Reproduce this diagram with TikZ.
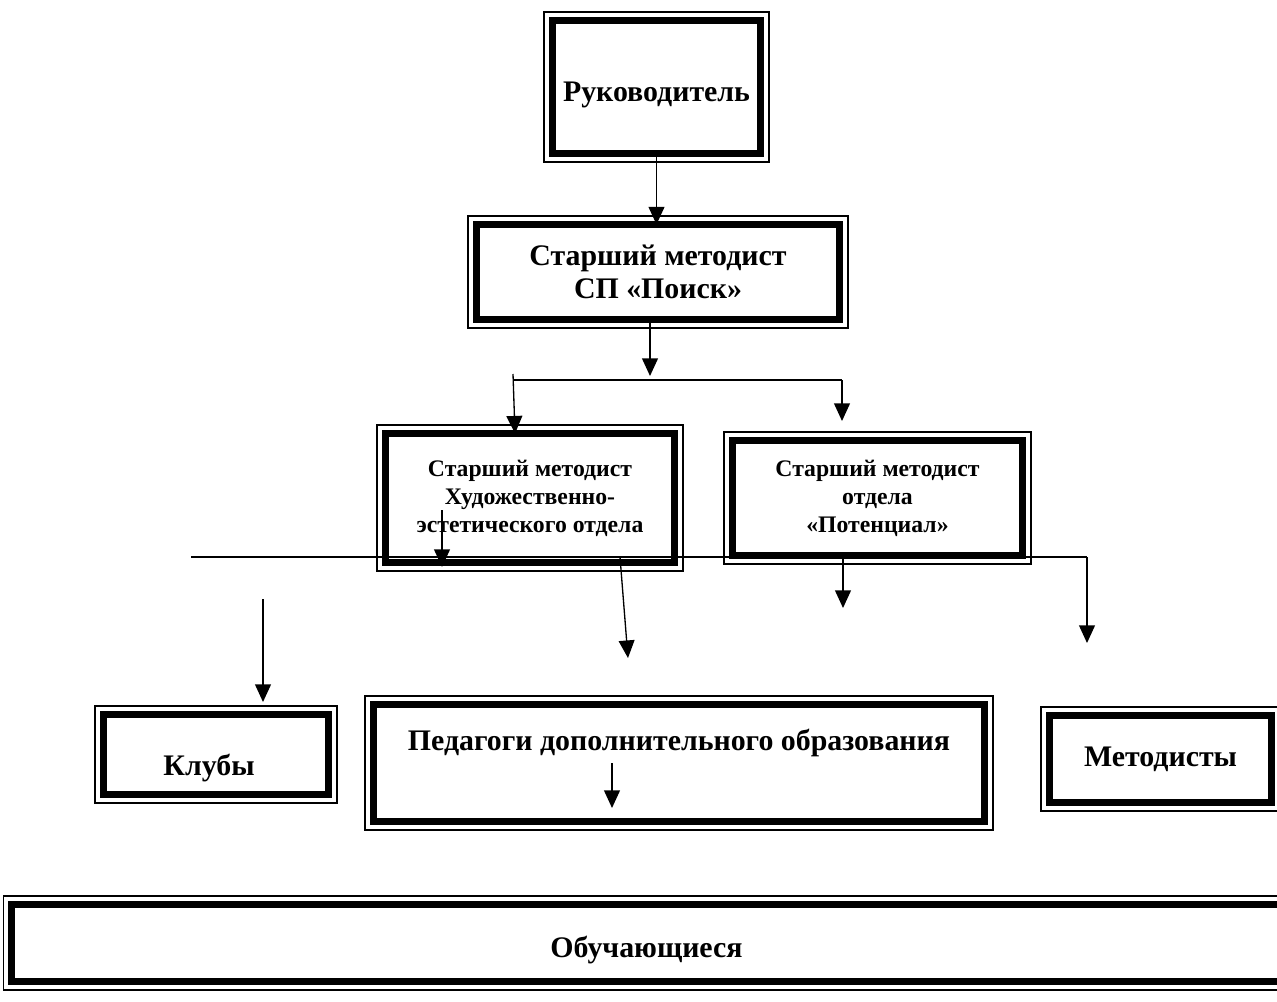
\documentclass[tikz,border=0pt]{standalone}
\usepackage{fontspec}
\setmainfont{Liberation Serif}
\usetikzlibrary{arrows.meta}

\tikzset{
  ramka/.style={draw, line width=4pt, inner sep=0pt, outer sep=0pt, align=center, font=\fontsize{17}{18.5}\selectfont\bfseries},
  melko/.style={font=\fontsize{13.5}{16}\selectfont\bfseries},
  krupno/.style={font=\fontsize{17}{18.5}\selectfont\bfseries},
  strelka/.style={->, line width=0.75pt},
  liniya/.style={line width=0.75pt},
  tonko/.style={line width=0.7pt}
}

\begin{document}
\begin{tikzpicture}[x=0.02cm,y=-0.02cm,>={Triangle[length=10pt,width=9pt]}]
\useasboundingbox (0,0) rectangle (1277,1001);
\clip (0,0) rectangle (1277,1001);
% ramki
\node[ramka, minimum width=4.16cm, minimum height=2.66cm,
      label={[krupno, yshift=-0.16cm]center:Руководитель}] (ruk) at (656.5,87) {};
\node[ramka, minimum width=7.26cm, minimum height=1.9cm] (sp) at (658,272) {Старший методист\\СП «Поиск»};
\node[ramka, melko, minimum width=5.78cm, minimum height=2.58cm] (xeo) at (530,498) {Старший методист\\Художественно-\\эстетического отдела};
\node[ramka, melko, minimum width=5.8cm, minimum height=2.3cm] (pot) at (877.5,498) {Старший методист\\отдела\\«Потенциал»};
\node[ramka, minimum width=4.5cm, minimum height=1.6cm,
      label={[krupno, xshift=-0.14cm, yshift=-0.28cm]center:Клубы}] (klub) at (216,754.5) {};
\node[ramka, minimum width=12.22cm, minimum height=2.34cm,
      label={[krupno, yshift=0.4cm]center:Педагоги дополнительного образования}] (ped) at (679,763) {};
\node[ramka, minimum width=4.44cm, minimum height=1.74cm] (met) at (1160.5,759) {Методисты};
\node[ramka, minimum width=25.4cm, minimum height=1.54cm,
      label={[krupno, yshift=-0.14cm]center:Обучающиеся}] (obu) at (646.5,943) {};
% tonkie vneshnie linii
\foreach \n in {ruk,sp,xeo,pot,klub,ped,met,obu}
  \draw[tonko] ([shift={(-0.17cm,0.17cm)}]\n.north west) rectangle ([shift={(0.17cm,-0.17cm)}]\n.south east);
% strelki
\coordinate (raz) at (650,376);
\coordinate (hl) at (513,374);
\coordinate (hr) at (842,380);
\coordinate (potv) at (842,421);
\draw[strelka] (ruk.south) -- (ruk.south |- sp.north);
\draw[strelka] (sp.south -| raz) -- (raz);
\draw[liniya] (hl |- hr) -- (hr);
\draw[strelka] (hl) -- ([xshift=-0.3cm]xeo.north);
\draw[strelka] (hr) -- (potv);
\coordinate (gl) at (191,557);
\coordinate (gp) at (1087,557);
\coordinate (metv) at (1087,643);
\draw[liniya] (gl) -- (gp);
\draw[strelka] (gp) -- (metv);
\coordinate (xv1) at (442,510);
\coordinate (xv2) at (442,567);
\draw[strelka] (xv1) -- (xv2);
\coordinate (sl1) at (620,557);
\coordinate (sl2) at (628,658);
\draw[strelka] (sl1) -- (sl2);
\coordinate (pv2) at (843,608);
\draw[strelka] (pot.south -| pv2) -- (pv2);
\coordinate (kv1) at (263,599);
\coordinate (kv2) at (263,702);
\draw[strelka] (kv1) -- (kv2);
\coordinate (pdv) at (612,808);
\draw[strelka] (ped.center -| pdv) -- (pdv);
\end{tikzpicture}
\end{document}
